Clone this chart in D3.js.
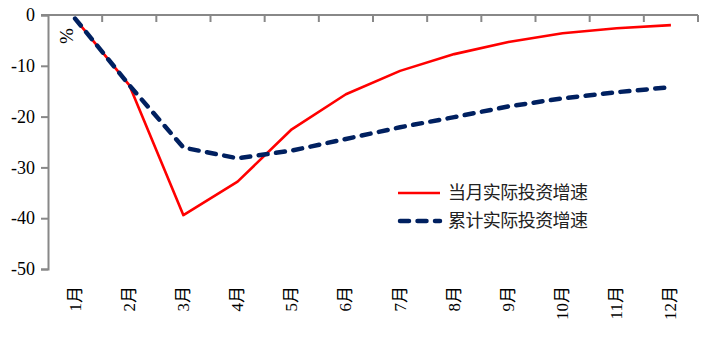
<!DOCTYPE html>
<html><head><meta charset="utf-8">
<script src="https://cdn.jsdelivr.net/npm/d3@7"></script>
<style>body{margin:0;background:#fff}</style>
</head><body>
<svg id="c" width="720" height="337"></svg>
<script>
const months = ["1月","2月","3月","4月","5月","6月","7月","8月","9月","10月","11月","12月"];
const monthlyGrowth = [-0.7,-13.8,-39.4,-32.8,-22.5,-15.6,-11.0,-7.7,-5.3,-3.6,-2.6,-2.0];
const cumulativeGrowth = [-0.7,-13.8,-26.1,-28.2,-26.7,-24.4,-22.1,-20.1,-18.0,-16.4,-15.2,-14.2];
const yTicks = [0,-10,-20,-30,-40,-50];
const seriesNames = ["当月实际投资增速","累计实际投资增速"];

const svg = d3.select("#c");
const mLeft = 48, mRight = 698, mTop = 15, mBottom = 269;
const x = d3.scaleBand().domain(months).range([mLeft, mRight]);
const y = d3.scaleLinear().domain([-50, 0]).range([mBottom, mTop]);
const axisColor = "#888888";
const serif = "'Liberation Serif','Times New Roman',serif";
const cjk = "'Liberation Serif','Noto Sans CJK SC',serif";

// y axis
const ya = svg.append("g").attr("transform", `translate(${mLeft},0)`)
  .call(d3.axisLeft(y).tickValues(yTicks).tickSize(7).tickPadding(6).tickFormat(d3.format("d")));
ya.select(".domain").attr("stroke", axisColor).attr("stroke-width", 2);
ya.selectAll(".tick line").attr("stroke", axisColor).attr("stroke-width", 2);
ya.selectAll(".tick text").attr("font-family", serif).attr("font-size", 18).attr("fill", "#000")
  .text(d => d === 0 ? "0" : "-" + Math.abs(d));

// x axis at top (value 0)
const xa = svg.append("g").attr("transform", `translate(0,${y(0)})`);
xa.append("line").attr("x1", mLeft - 7).attr("x2", mRight).attr("y1", 0).attr("y2", 0)
  .attr("stroke", axisColor).attr("stroke-width", 2);
xa.selectAll("line.t").data(months).join("line").attr("class","t")
  .attr("x1", d => x(d) + x.bandwidth()).attr("x2", d => x(d) + x.bandwidth())
  .attr("y1", 0).attr("y2", 7).attr("stroke", axisColor).attr("stroke-width", 2);

// month labels
svg.append("g").selectAll("text").data(months).join("text")
  .attr("transform", d => `translate(${x(d)+x.bandwidth()/2},286) rotate(-90)`)
  .attr("text-anchor", "end").attr("dominant-baseline", "central")
  .attr("font-family", cjk).attr("font-size", 17).attr("fill", "#000").text(d => d);

// % label
svg.append("text").attr("transform", "translate(66,36) rotate(-90)")
  .attr("text-anchor", "middle").attr("dominant-baseline", "central")
  .attr("font-family", serif).attr("font-size", 19).text("%");

const line = d3.line().x((d,i) => x(months[i]) + x.bandwidth()/2).y(d => y(d));
svg.append("path").datum(monthlyGrowth).attr("d", line).attr("fill", "none")
  .attr("stroke", "#ff0000").attr("stroke-width", 2.6).attr("stroke-linejoin", "round");
svg.append("path").datum(cumulativeGrowth).attr("d", line).attr("fill", "none")
  .attr("stroke", "#002060").attr("stroke-width", 4.5).attr("stroke-linecap", "round")
  .attr("stroke-dasharray", "9,8.5").attr("stroke-linejoin", "round");

// legend
const lg = svg.append("g");
const styles = [
  {stroke:"#ff0000", w:2.6, dash:null, cap:"butt"},
  {stroke:"#002060", w:4.5, dash:"9,8.5", cap:"round"}
];
seriesNames.forEach((n,i) => {
  const yy = 193 + i*28;
  lg.append("line").attr("x1", i ? 400 : 398).attr("x2", 440).attr("y1", yy).attr("y2", yy)
    .attr("stroke", styles[i].stroke).attr("stroke-width", styles[i].w)
    .attr("stroke-linecap", styles[i].cap).attr("stroke-dasharray", styles[i].dash);
  lg.append("text").attr("x", 448).attr("y", yy).attr("dominant-baseline", "central")
    .attr("font-family", cjk).attr("font-size", 18).attr("textLength", 140)
    .attr("fill", "#222").text(n);
});
</script>
</body></html>
